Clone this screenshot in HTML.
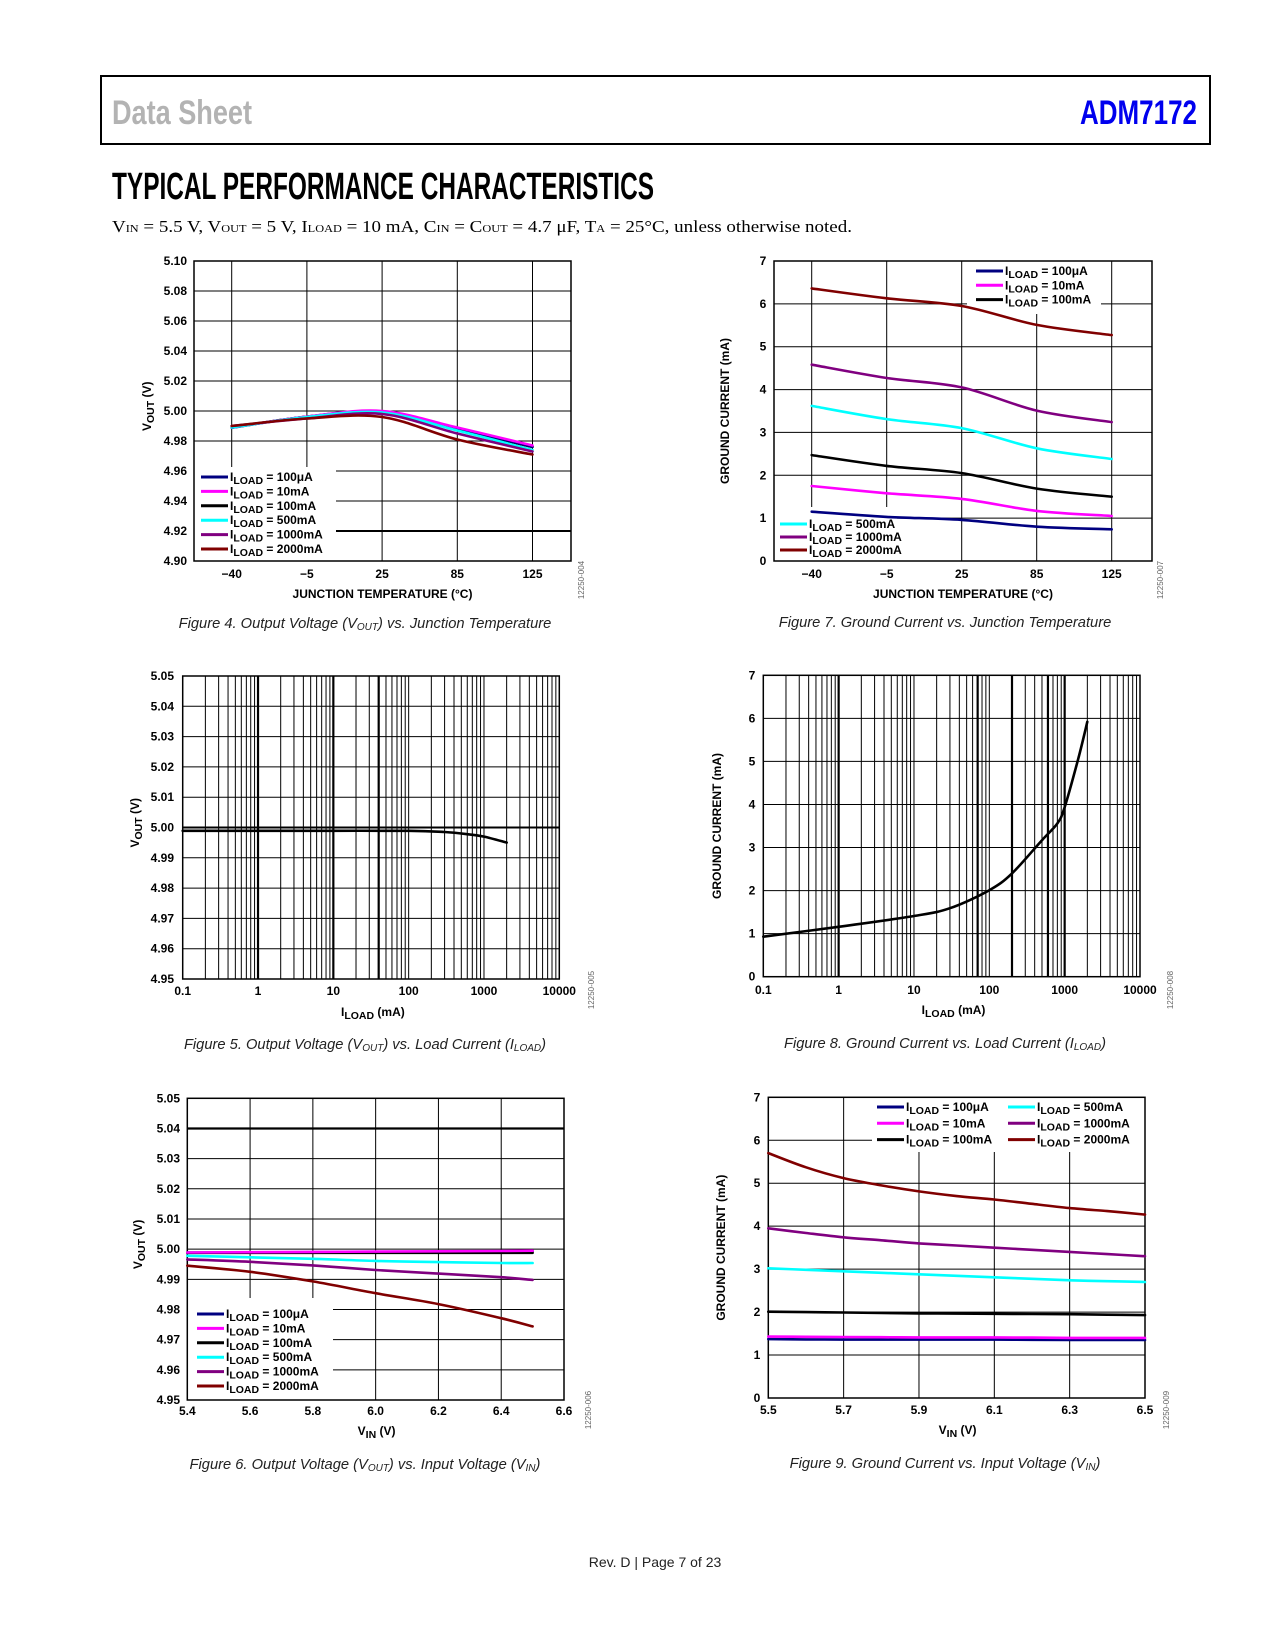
<!DOCTYPE html>
<html><head><meta charset="utf-8"><title>ADM7172 Typical Performance Characteristics</title>
<style>
html,body{margin:0;padding:0;background:#fff;}
body{width:1275px;height:1650px;position:relative;overflow:hidden;}
svg{position:absolute;left:0;top:0;}
.tk{font-family:"Liberation Sans",Arial,sans-serif;font-weight:bold;font-size:12px;fill:#000;}
.cap{font-family:"Liberation Sans",Arial,sans-serif;font-style:italic;font-size:14.7px;fill:#222;}
</style></head>
<body>
<svg id="pg" width="1275" height="1650" viewBox="0 0 1275 1650" xmlns="http://www.w3.org/2000/svg">
<rect x="101" y="76" width="1109" height="68" fill="none" stroke="#000" stroke-width="2"/>
<text x="112" y="124" font-family="'Liberation Sans Narrow','Liberation Sans',sans-serif" font-weight="bold" font-size="34" fill="#b3b3b3" textLength="140" lengthAdjust="spacingAndGlyphs">Data Sheet</text>
<text x="1080" y="124" font-family="'Liberation Sans Narrow','Liberation Sans',sans-serif" font-weight="bold" font-size="34" fill="#0000ee" textLength="117" lengthAdjust="spacingAndGlyphs">ADM7172</text>
<text x="112" y="199" font-family="'Liberation Sans Narrow','Liberation Sans',sans-serif" font-weight="bold" font-size="38" fill="#000" textLength="542" lengthAdjust="spacingAndGlyphs">TYPICAL PERFORMANCE CHARACTERISTICS</text>
<text x="112" y="232" font-family="'Liberation Serif',serif" font-size="17" fill="#000" textLength="740" lengthAdjust="spacingAndGlyphs">V<tspan font-size="11">IN</tspan> = 5.5 V, V<tspan font-size="11">OUT</tspan> = 5 V, I<tspan font-size="11">LOAD</tspan> = 10 mA, C<tspan font-size="11">IN</tspan> = C<tspan font-size="11">OUT</tspan> = 4.7 μF, T<tspan font-size="11">A</tspan> = 25°C, unless otherwise noted.</text>
<text x="655" y="1567" text-anchor="middle" font-family="'Liberation Sans',sans-serif" font-size="14" fill="#222">Rev. D | Page 7 of 23</text>
</svg>
<script>
// ===== Figure 4 data =====
const f4Temps = ['−40','−5','25','85','125'];
const f4YTicks = ['4.90','4.92','4.94','4.96','4.98','5.00','5.02','5.04','5.06','5.08','5.10'];
const f4_100uA = [4.9888,4.9962,4.9996,4.9884,4.9762];
const f4_10mA = [4.9890,4.9962,5.0000,4.9890,4.9770];
const f4_100mA = [4.9890,4.9962,4.9995,4.9880,4.9760];
const f4_500mA = [4.9890,4.9960,4.9990,4.9870,4.9740];
const f4_1000mA = [4.9900,4.9950,4.9980,4.9850,4.9730];
const f4_2000mA = [4.9900,4.9950,4.9960,4.9810,4.9710];
// ===== Figure 7 data =====
const f7Temps = ['−40','−5','25','85','125'];
const f7YTicks = ['0','1','2','3','4','5','6','7'];
const f7_100uA = [1.15,1.03,0.96,0.80,0.74];
const f7_10mA = [1.75,1.58,1.45,1.17,1.05];
const f7_100mA = [2.47,2.22,2.05,1.69,1.50];
const f7_500mA = [3.62,3.31,3.10,2.63,2.38];
const f7_1000mA = [4.58,4.27,4.05,3.51,3.24];
const f7_2000mA = [6.36,6.13,5.95,5.51,5.27];
// ===== Figure 5 data =====
const f5XTicks = ['0.1','1','10','100','1000','10000'];
const f5YTicks = ['4.95','4.96','4.97','4.98','4.99','5.00','5.01','5.02','5.03','5.04','5.05'];
const f5Load = [0.1,1,10,100,300,600,1000,2000];
const f5Vout = [4.9989,4.9989,4.9989,4.9989,4.9985,4.9978,4.9970,4.9950];
// ===== Figure 8 data =====
const f8XTicks = ['0.1','1','10','100','1000','10000'];
const f8YTicks = ['0','1','2','3','4','5','6','7'];
const f8Load = [0.1,1,10,30,100,200,500,800,1000,1500,2000];
const f8Gnd = [0.93,1.16,1.41,1.59,2.01,2.40,3.17,3.56,3.94,5.03,5.92];
// ===== Figure 6 data =====
const f6Vin = [5.4,5.6,5.8,6.0,6.2,6.4,6.5];
const f6XTicks = ['5.4','5.6','5.8','6.0','6.2','6.4','6.6'];
const f6YTicks = ['4.95','4.96','4.97','4.98','4.99','5.00','5.01','5.02','5.03','5.04','5.05'];
const f6_100uA = [4.9989,4.9989,4.9990,4.9990,4.9991,4.9992,4.9993];
const f6_10mA = [4.9989,4.9990,4.9991,4.9992,4.9993,4.9994,4.9995];
const f6_100mA = [4.9988,4.9988,4.9988,4.9988,4.9988,4.9988,4.9988];
const f6_500mA = [4.9978,4.9973,4.9968,4.9961,4.9957,4.9954,4.9954];
const f6_1000mA = [4.9966,4.9958,4.9946,4.9931,4.9919,4.9907,4.9898];
const f6_2000mA = [4.9945,4.9925,4.9893,4.9854,4.9818,4.9771,4.9744];
// ===== Figure 9 data =====
const f9Vin = [5.5,5.6,5.7,5.8,5.9,6.0,6.1,6.2,6.3,6.4,6.5];
const f9XTicks = ['5.5','5.7','5.9','6.1','6.3','6.5'];
const f9YTicks = ['0','1','2','3','4','5','6','7'];
const f9_100uA = [1.37,1.365,1.36,1.36,1.36,1.36,1.36,1.355,1.35,1.35,1.35];
const f9_10mA = [1.43,1.425,1.42,1.415,1.41,1.41,1.41,1.405,1.40,1.40,1.40];
const f9_100mA = [2.01,2.00,1.99,1.98,1.97,1.965,1.96,1.955,1.95,1.94,1.93];
const f9_500mA = [3.02,2.985,2.95,2.915,2.88,2.845,2.81,2.775,2.74,2.72,2.70];
const f9_1000mA = [3.95,3.84,3.74,3.67,3.60,3.55,3.50,3.45,3.40,3.35,3.30];
const f9_2000mA = [5.70,5.37,5.12,4.95,4.81,4.70,4.62,4.52,4.42,4.35,4.27];

const NS='http://www.w3.org/2000/svg';
const svg=document.getElementById('pg');
const C={u:'#000080',m:'#ff00ff',k:'#000000',c:'#00ffff',p:'#800080',r:'#800000'};

function mk(tag,attrs,name,parent){
  const el=document.createElementNS(NS,tag);
  for(const k in attrs) el.setAttribute(k,attrs[k]);
  
  
  (parent||svg).appendChild(el);
  return el;
}
function lin(d0,d1,r0,r1){return v=>r0+(v-d0)/(d1-d0)*(r1-r0);}
function logs(d0,d1,r0,r1){const a=Math.log10(d0),b=Math.log10(d1);return v=>r0+(Math.log10(v)-a)/(b-a)*(r1-r0);}
function smooth(pts){
  let d='M'+pts[0][0].toFixed(1)+','+pts[0][1].toFixed(1);
  for(let i=0;i<pts.length-1;i++){
    const p0=pts[i-1]||pts[i],p1=pts[i],p2=pts[i+1],p3=pts[i+2]||p2;
    const c1=[p1[0]+(p2[0]-p0[0])/6,p1[1]+(p2[1]-p0[1])/6];
    const c2=[p2[0]-(p3[0]-p1[0])/6,p2[1]-(p3[1]-p1[1])/6];
    d+=' C'+c1[0].toFixed(1)+','+c1[1].toFixed(1)+' '+c2[0].toFixed(1)+','+c2[1].toFixed(1)+' '+p2[0].toFixed(1)+','+p2[1].toFixed(1);
  }
  return d;
}
function line(x1,y1,x2,y2,w,name,g){
  return mk('line',{x1:x1,y1:y1,x2:x2,y2:y2,stroke:'#000','stroke-width':w||1},name,g);
}
function txt(x,y,s,anchor,name,g,cls){
  const t=mk('text',{x:x,y:y,'text-anchor':anchor||'middle',class:cls||'tk'},name,g);
  t.textContent=s;return t;
}
function subTxt(x,y,main,sub,rest,anchor,name,g,rot){
  const attrs={x:x,y:y,'text-anchor':anchor||'start',class:'tk'};
  if(rot) attrs.transform='rotate(-90 '+x+' '+y+')';
  const t=mk('text',attrs,name,g);
  const a=document.createElementNS(NS,'tspan');a.textContent=main;t.appendChild(a);
  const b=document.createElementNS(NS,'tspan');b.setAttribute('dy','3');b.setAttribute('font-size','10.5');b.textContent=sub;t.appendChild(b);
  const c=document.createElementNS(NS,'tspan');c.setAttribute('dy','-3');c.textContent=rest;t.appendChild(c);
  return t;
}
function series(pts,color,name,g){
  mk('path',{d:smooth(pts),fill:'none',stroke:color,'stroke-width':2.6,'stroke-linejoin':'round','stroke-linecap':'round'},name,g);
}
function legendItem(x,y,color,label,name,g){
  mk('line',{x1:x,y1:y,x2:x+27,y2:y,stroke:color,'stroke-width':3},name+'-swatch',g);
  subTxt(x+29,y+4,'I','LOAD',' = '+label,'start',name+'-label',g);
}
function caption(x,y,pre,sub,post,name){
  const t=mk('text',{x:x,y:y,'text-anchor':'middle',class:'cap'},name);
  const a=document.createElementNS(NS,'tspan');a.textContent=pre;t.appendChild(a);
  if(sub){const b=document.createElementNS(NS,'tspan');b.setAttribute('font-size','10');b.setAttribute('dy','2');b.textContent=sub;t.appendChild(b);
  const c=document.createElementNS(NS,'tspan');c.setAttribute('dy','-2');c.textContent=post;t.appendChild(c);}
}
function code(x,y,s,name){
  const t=mk('text',{x:x,y:y,'text-anchor':'middle',transform:'rotate(-90 '+x+' '+y+')','font-family':'Liberation Sans,sans-serif','font-size':'8',fill:'#666'},name);
  t.textContent=s;
}
const labels=['100μA','10mA','100mA','500mA','1000mA','2000mA'];
const cols=[C.u,C.m,C.k,C.c,C.p,C.r];

// ---------- Figure 4 ----------
(function(){
  const g=mk('g',{},'figure-4-vout-vs-temperature');
  const L=194,R=571,T=261,B=561;
  const xs=i=>231.7+i*75.2;
  const ys=lin(4.90,5.10,B,T);
  f4YTicks.forEach(s=>{const v=+s;const y=ys(v);
    if(v>4.901&&v<5.099) line(v<4.97?336:L,y,R,y,Math.abs(v-4.92)<1e-6?2:1,'gridline-y',g);
    txt(187,y+4,s,'end','y-tick-label',g);});
  f4Temps.forEach((s,i)=>{const x=xs(i);
    line(x,T,x,i<2?467:B,1,'gridline-x',g);
    txt(x,578,s,'middle','x-tick-label',g);});
  mk('rect',{x:L,y:T,width:R-L,height:B-T,fill:'none',stroke:'#000','stroke-width':1.5},'plot-frame',g);
  const S=[f4_100uA,f4_10mA,f4_100mA,f4_500mA,f4_1000mA,f4_2000mA];
  [2,0,1,3,4,5].forEach(k=>series(S[k].map((v,i)=>[xs(i),ys(v)]),cols[k],'series-'+labels[k],g));
  labels.forEach((l,k)=>legendItem(201,477+k*14.4,cols[k],l,'legend-entry',g));
  txt((L+R)/2,598,'JUNCTION TEMPERATURE (°C)','middle','x-axis-title',g);
  subTxt(151,(T+B)/2+20,'V','OUT',' (V)','start','y-axis-title',g,true);
})();
caption(365,628,'Figure 4. Output Voltage (V','OUT',') vs. Junction Temperature','figure-4-caption');
code(584,580,'12250-004','figure-4-code');

// ---------- Figure 7 ----------
(function(){
  const g=mk('g',{},'figure-7-ground-current-vs-temperature');
  const L=774,R=1152,T=261,B=561;
  const xs=i=>811.7+i*75;
  const ys=lin(0,7,B,T);
  f7YTicks.forEach(s=>{const v=+s;const y=ys(v);
    if(v>0&&v<7){
      if(v===6){line(L,y,967,y,1,'gridline-y',g);line(1101,y,R,y,1,'gridline-y',g);}
      else line(v===1?897:L,y,R,y,1,'gridline-y',g);}
    txt(763,y+4,s,'middle','y-tick-label',g);});
  f7Temps.forEach((s,i)=>{const x=xs(i);
    line(x,i===3?314:T,x,i<=1?507:B,1,'gridline-x',g);
    txt(x,578,s,'middle','x-tick-label',g);});
  mk('rect',{x:L,y:T,width:R-L,height:B-T,fill:'none',stroke:'#000','stroke-width':1.5},'plot-frame',g);
  const S=[f7_100uA,f7_10mA,f7_100mA,f7_500mA,f7_1000mA,f7_2000mA];
  S.forEach((arr,k)=>series(arr.map((v,i)=>[xs(i),ys(v)]),cols[k],'series-'+labels[k],g));
  [0,1,2].forEach(k=>legendItem(976,271+k*14.3,cols[k],labels[k],'legend-entry',g));
  [3,4,5].forEach((k,j)=>legendItem(780,524+j*13,cols[k],labels[k],'legend-entry',g));
  txt((L+R)/2,598,'JUNCTION TEMPERATURE (°C)','middle','x-axis-title',g);
  const t=txt(729,(T+B)/2,'GROUND CURRENT (mA)','middle','y-axis-title',g);
  t.setAttribute('transform','rotate(-90 729 '+((T+B)/2)+')');
})();
caption(945,627,'Figure 7. Ground Current vs. Junction Temperature','','','figure-7-caption');
code(1163,580,'12250-007','figure-7-code');

// ---------- log grid helper ----------
function logGrid(g,xs,T,B,thick){
  for(let d=0.1;d<10000;d*=10){for(let m=1;m<10;m++){const v=d*m;if(v<=0.1001)continue;
    const x=xs(v);const th=thick.some(t=>Math.abs(t-v)/v<0.01);
    line(x,T,x,B,th?2.2:1,'gridline-x',g);}}
}

// ---------- Figure 5 ----------
(function(){
  const g=mk('g',{},'figure-5-vout-vs-load');
  const L=182.7,R=559.3,T=676,B=979;
  const xs=logs(0.1,10000,L,R);
  const ys=lin(4.95,5.05,B,T);
  logGrid(g,xs,T,B,[1,10,40]);
  f5YTicks.forEach(s=>{const v=+s;const y=ys(v);
    if(v>4.951&&v<5.049) line(L,y,R,y,Math.abs(v-5)<1e-6?2:1,'gridline-y',g);
    txt(174,y+4,s,'end','y-tick-label',g);});
  f5XTicks.forEach(s=>txt(xs(+s),995,s,'middle','x-tick-label',g));
  mk('rect',{x:L,y:T,width:R-L,height:B-T,fill:'none',stroke:'#000','stroke-width':1.5},'plot-frame',g);
  series(f5Load.map((v,i)=>[xs(v),ys(f5Vout[i])]),'#000','series-vout',g);
  subTxt((L+R)/2-30,1016,'I','LOAD',' (mA)','start','x-axis-title',g);
  subTxt(139,(T+B)/2+20,'V','OUT',' (V)','start','y-axis-title',g,true);
})();
caption(365,1049,'Figure 5. Output Voltage (V','OUT',') vs. Load Current (I','figure-5-caption');
(function(){const t=svg.lastChild;const b=document.createElementNS(NS,'tspan');b.setAttribute('font-size','10');b.setAttribute('dy','2');b.textContent='LOAD';t.appendChild(b);const c=document.createElementNS(NS,'tspan');c.setAttribute('dy','-2');c.textContent=')';t.appendChild(c);})();
code(594,990,'12250-005','figure-5-code');

// ---------- Figure 8 ----------
(function(){
  const g=mk('g',{},'figure-8-ground-current-vs-load');
  const L=763.3,R=1140,T=675.3,B=976.7;
  const xs=logs(0.1,10000,L,R);
  const ys=lin(0,7,B,T);
  logGrid(g,xs,T,B,[1,70,200,600,1000]);
  f8YTicks.forEach(s=>{const v=+s;const y=ys(v);
    if(v>0&&v<7) line(L,y,R,y,1,'gridline-y',g);
    txt(752,y+4,s,'middle','y-tick-label',g);});
  f8XTicks.forEach(s=>txt(xs(+s),994,s,'middle','x-tick-label',g));
  mk('rect',{x:L,y:T,width:R-L,height:B-T,fill:'none',stroke:'#000','stroke-width':1.5},'plot-frame',g);
  series(f8Load.map((v,i)=>[xs(v),ys(f8Gnd[i])]),'#000','series-ground-current',g);
  subTxt((L+R)/2-30,1014,'I','LOAD',' (mA)','start','x-axis-title',g);
  const t=txt(721,(T+B)/2,'GROUND CURRENT (mA)','middle','y-axis-title',g);
  t.setAttribute('transform','rotate(-90 721 '+((T+B)/2)+')');
})();
caption(945,1048,'Figure 8. Ground Current vs. Load Current (I','LOAD',')','figure-8-caption');
code(1173,990,'12250-008','figure-8-code');

// ---------- Figure 6 ----------
(function(){
  const g=mk('g',{},'figure-6-vout-vs-vin');
  const L=187.3,R=564,T=1098.3,B=1400;
  const xs=lin(5.4,6.6,L,R);
  const ys=lin(4.95,5.05,B,T);
  f6YTicks.forEach(s=>{const v=+s;const y=ys(v);
    if(v>4.951&&v<5.049) line(v<4.985?333:L,y,R,y,Math.abs(v-5.04)<1e-6?2.2:1,'gridline-y',g);
    txt(180,y+4,s,'end','y-tick-label',g);});
  f6XTicks.forEach(s=>{const v=+s;const x=xs(v);
    if(v>5.41&&v<6.59) line(x,T,x,v<5.9?1298:B,1,'gridline-x',g);
    txt(x,1415,s,'middle','x-tick-label',g);});
  mk('rect',{x:L,y:T,width:R-L,height:B-T,fill:'none',stroke:'#000','stroke-width':1.5},'plot-frame',g);
  const S=[f6_100uA,f6_10mA,f6_100mA,f6_500mA,f6_1000mA,f6_2000mA];
  [0,2,1,3,4,5].forEach(k=>series(S[k].map((v,i)=>[xs(f6Vin[i]),ys(v)]),cols[k],'series-'+labels[k],g));
  labels.forEach((l,k)=>legendItem(197,1314+k*14.4,cols[k],l,'legend-entry',g));
  subTxt((L+R)/2-18,1435,'V','IN',' (V)','start','x-axis-title',g);
  subTxt(142,(T+B)/2+20,'V','OUT',' (V)','start','y-axis-title',g,true);
})();
caption(365,1469,'Figure 6. Output Voltage (V','OUT',') vs. Input Voltage (V','figure-6-caption');
(function(){const t=svg.lastChild;const b=document.createElementNS(NS,'tspan');b.setAttribute('font-size','10');b.setAttribute('dy','2');b.textContent='IN';t.appendChild(b);const c=document.createElementNS(NS,'tspan');c.setAttribute('dy','-2');c.textContent=')';t.appendChild(c);})();
code(591,1410,'12250-006','figure-6-code');

// ---------- Figure 9 ----------
(function(){
  const g=mk('g',{},'figure-9-ground-current-vs-vin');
  const L=768.3,R=1145,T=1097.3,B=1398;
  const xs=lin(5.5,6.5,L,R);
  const ys=lin(0,7,B,T);
  f9YTicks.forEach(s=>{const v=+s;const y=ys(v);
    if(v>0&&v<7) line(L,y,v===6?872:R,y,1,'gridline-y',g);
    txt(757,y+4,s,'middle','y-tick-label',g);});
  f9XTicks.forEach(s=>{const v=+s;const x=xs(v);
    if(v>5.51&&v<6.49) line(x,v>5.8?1152:T,x,B,1,'gridline-x',g);
    txt(x,1414,s,'middle','x-tick-label',g);});
  mk('rect',{x:L,y:T,width:R-L,height:B-T,fill:'none',stroke:'#000','stroke-width':1.5},'plot-frame',g);
  const S=[f9_100uA,f9_10mA,f9_100mA,f9_500mA,f9_1000mA,f9_2000mA];
  S.forEach((arr,k)=>series(arr.map((v,i)=>[xs(f9Vin[i]),ys(v)]),cols[k],'series-'+labels[k],g));
  [0,1,2].forEach(k=>legendItem(877,1107+k*16.3,cols[k],labels[k],'legend-entry',g));
  [3,4,5].forEach((k,j)=>legendItem(1008,1107+j*16.3,cols[k],labels[k],'legend-entry',g));
  subTxt((L+R)/2-18,1434,'V','IN',' (V)','start','x-axis-title',g);
  const t=txt(725,(T+B)/2,'GROUND CURRENT (mA)','middle','y-axis-title',g);
  t.setAttribute('transform','rotate(-90 725 '+((T+B)/2)+')');
})();
caption(945,1468,'Figure 9. Ground Current vs. Input Voltage (V','IN',')','figure-9-caption');
code(1169,1410,'12250-009','figure-9-code');
</script>
</body></html>
